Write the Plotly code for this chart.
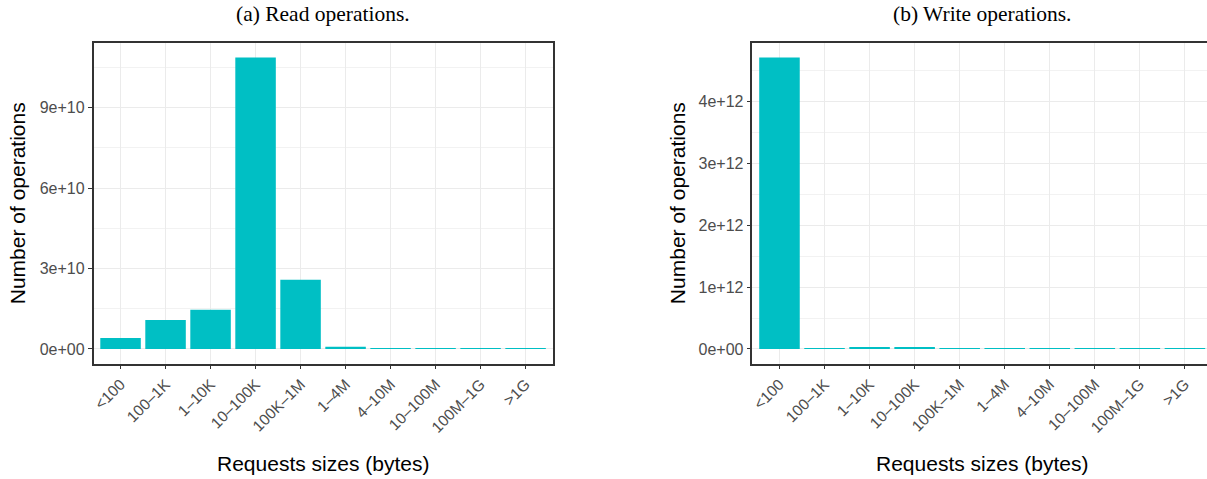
import plotly.graph_objects as go

categories = ["<100", "100–1K", "1–10K", "10–100K", "100K–1M",
              "1–4M", "4–10M", "10–100M", "100M–1G", ">1G"]
read_ops = [4.1e9, 1.08e10, 1.46e10, 1.087e11, 2.58e10, 8e8, 1.5e8, 1.5e8, 1.5e8, 1.5e8]
write_ops = [4.71e12, 6e9, 1.6e10, 1.6e10, 6e9, 6e9, 6e9, 6e9, 6e9, 6e9]
read_ticks = [0, 3e10, 6e10, 9e10, 1.2e11]
write_ticks = [0, 1e12, 2e12, 3e12, 4e12, 5e12]
titles = ["(a) Read operations.", "(b) Write operations."]
x_title = "Requests sizes (bytes)"
y_title = "Number of operations"

W, H = 1207, 479
BAR = "#00BFC4"
BORDER = "#333333"
GRID = "#EBEBEB"
TICKC = "#4D4D4D"
SANS = "Liberation Sans, Arial, sans-serif"
SERIF = "Liberation Serif, Times New Roman, serif"


def fmt(v):
    return f"{v:.0e}"


def minor_vals(ticks):
    return [(a + b) / 2 for a, b in zip(ticks[:-1], ticks[1:])]


fig = go.Figure()
fig.add_trace(go.Bar(x=categories, y=read_ops, marker_color=BAR, marker_line_width=0,
                     xaxis="x", yaxis="y", showlegend=False))
fig.add_trace(go.Bar(x=categories, y=write_ops, marker_color=BAR, marker_line_width=0,
                     xaxis="x2", yaxis="y2", showlegend=False))

ybot = 1 - 363.5 / H
ytop = 1 - 43 / H
dom_l = [91.7 / W, 551.5 / W]
dom_r = [751.7 / W, 1.0]


def xaxis(domain, anchor, rng):
    return dict(domain=domain, anchor=anchor, type="category", range=rng,
                showgrid=True, gridcolor=GRID, gridwidth=1.4,
                showline=True, mirror=True, linecolor=BORDER, linewidth=1.5,
                ticks="outside", ticklen=4, tickwidth=1.2, tickcolor=BORDER,
                tickangle=-45, tickfont=dict(family=SANS, size=15.5, color=TICKC),
                categoryorder="array", categoryarray=categories, fixedrange=True)


def yaxis(anchor, ticks, rng, mirror):
    return dict(domain=[ybot, ytop], anchor=anchor, range=rng,
                tickmode="array", tickvals=ticks, ticktext=[fmt(t) for t in ticks],
                showgrid=True, gridcolor=GRID, gridwidth=1.4, zeroline=False,
                showline=True, mirror=mirror, linecolor=BORDER, linewidth=1.5,
                ticks="outside", ticklen=4, tickwidth=1.2, tickcolor=BORDER,
                tickfont=dict(family=SANS, size=16, color=TICKC),
                minor=dict(tickmode="array", tickvals=minor_vals(ticks), showgrid=True,
                           gridcolor="#F2F2F2", gridwidth=0.9, ticks=""),
                fixedrange=True)


rmax = max(read_ops)
wmax = max(write_ops)
fig.update_layout(
    width=W, height=H, margin=dict(l=0, r=0, t=0, b=0),
    paper_bgcolor="white", plot_bgcolor="white", bargap=0.1,
    xaxis=xaxis(dom_l, "y", [-0.6, 9.6]),
    yaxis=yaxis("x", read_ticks, [-0.05 * rmax, 1.05 * rmax], True),
    xaxis2=xaxis(dom_r, "y2", [-0.6, 9.49]),
    yaxis2=yaxis("x2", write_ticks, [-0.05 * wmax, 1.05 * wmax], False),
)

anns = []
for dom, t in zip([dom_l, [751.7 / W, 1212 / W]], titles):
    cx = (dom[0] + dom[1]) / 2
    anns.append(dict(text=t, x=cx, y=1 - 14 / H, xref="paper", yref="paper",
                     showarrow=False, xanchor="center", yanchor="middle",
                     font=dict(family=SERIF, size=21.5, color="black")))
    anns.append(dict(text=x_title, x=cx, y=1 - 463 / H, xref="paper", yref="paper",
                     showarrow=False, xanchor="center", yanchor="middle",
                     font=dict(family=SANS, size=21, color="black")))
for xp in [15, 676]:
    anns.append(dict(text=y_title, x=xp / W, y=(ybot + ytop) / 2, xref="paper", yref="paper",
                     showarrow=False, xanchor="center", yanchor="middle", textangle=-90,
                     font=dict(family=SANS, size=21, color="black")))
fig.update_layout(annotations=anns)

fig.write_html("out.html")
